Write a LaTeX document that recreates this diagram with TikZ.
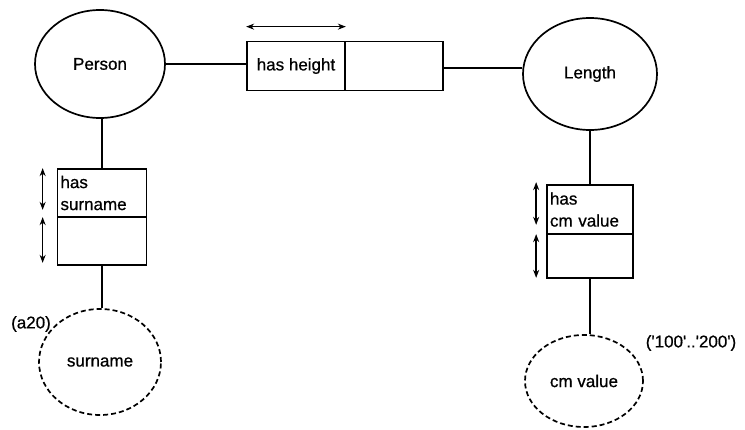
\documentclass[tikz,border=0pt]{standalone}
\usepackage{fontspec}
\setmainfont{Liberation Sans}
\newfontfamily\labelfont[FakeBold=0.7]{Liberation Sans}
\usetikzlibrary{arrows.meta,shapes.geometric}
\begin{document}
\begin{tikzpicture}[x=1pt,y=-1pt,
  line width=1.7pt,
  every node/.style={font=\labelfont\fontsize{17}{22}\selectfont},
  entity/.style={ellipse,draw,inner sep=0pt},
  valuetype/.style={ellipse,draw,dashed,dash pattern=on 5pt off 3pt,inner sep=0pt},
  cell/.style={rectangle,draw,inner sep=0pt},
  rolecell/.style={rectangle,draw,inner xsep=3pt,inner ysep=0pt,align=left},
  span/.style={{Stealth[length=8pt,width=6pt]}-{Stealth[length=8pt,width=6pt]},line width=1.6pt},
  note/.style={inner sep=0pt}]
\useasboundingbox (0,0) rectangle (745,430);
\fill[white] (0,0) rectangle (745,430);

% entity types
\node[entity,minimum width=130pt,minimum height=108pt] (person) at (100,64) {Person};
\node[entity,minimum width=134pt,minimum height=112pt] (length) at (590,74) {Length};

% value types
\node[valuetype,minimum width=122pt,minimum height=106pt] (surname) at (100,362) {surname};
\node[valuetype,minimum width=118pt,minimum height=92pt] (cmvalue) at (584,381) {cm value};

% fact type: Person has height Length
\node[cell,minimum width=98pt,minimum height=49pt] (hh1) at (296,66) {has height};
\node[cell,minimum width=98pt,minimum height=49pt] (hh2) at (394,66) {};

% fact type: Person has surname
\node[rolecell,text width=83pt,minimum height=48pt] (hs1) at (102,193) {has\\surname};
\node[cell,minimum width=89pt,minimum height=48pt] (hs2) at (102,241) {};

% fact type: Length has cm value
\node[rolecell,text width=80pt,minimum height=49pt] (hc1) at (590,209.5) {has\\cm value};
\node[cell,minimum width=86pt,minimum height=44pt] (hc2) at (590,256) {};

% value constraints
\node[note] (a20) at (31,324) {(a20)};
\node[note] (range) at (691,343) {('100'..'200')};

% role connectors
\draw (person.east) -- (person.east -| hh1.west);
\draw ([yshift=-2pt]hh2.east) -- ([yshift=-2pt]hh2.east -| length.west);
\draw (hs1.north) -- (hs1.north |- person.south);
\draw (hs2.south) -- (hs2.south |- surname.north);
\draw (hc1.north) -- (hc1.north |- length.south);
\draw (hc2.south) -- (hc2.south |- cmvalue.north);

% uniqueness spans
\draw[span] ([yshift=14pt]hh1.north west) -- ([yshift=14pt]hh1.north east);
\draw[span,shorten >=8pt] ([xshift=-14pt]hs1.north west) -- ([xshift=-14pt]hs1.south west);
\draw[span,shorten <=1pt,shorten >=3pt] ([xshift=-14pt]hs2.north west) -- ([xshift=-14pt]hs2.south west);
\draw[span,shorten <=-2pt,shorten >=10pt] ([xshift=-10pt]hc1.north west) -- ([xshift=-10pt]hc1.south west);
\draw[span,shorten <=1pt,shorten >=1pt] ([xshift=-10pt]hc2.north west) -- ([xshift=-10pt]hc2.south west);
\end{tikzpicture}
\end{document}
